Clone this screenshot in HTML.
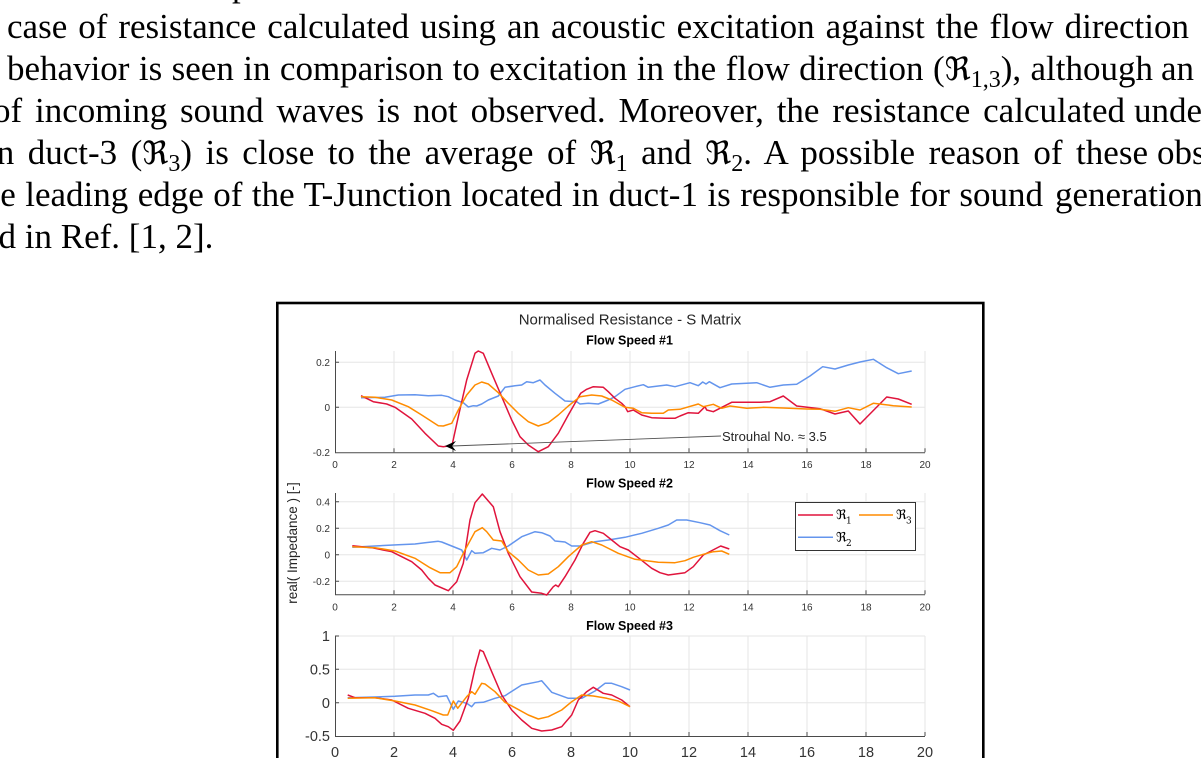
<!DOCTYPE html>
<html><head><meta charset="utf-8">
<style>
html,body{margin:0;padding:0;background:#fff;}
body{width:1201px;height:758px;overflow:hidden;position:relative;}
#txt{position:absolute;left:0;top:0;width:1201px;height:300px;overflow:hidden;}
.ln{position:absolute;font-family:"Liberation Serif","DejaVu Serif",serif;font-size:35px;line-height:35px;color:#000;text-align:justify;text-align-last:justify;white-space:nowrap;}
.nj{text-align:left;text-align-last:left;}
.ln sub{font-size:24px;vertical-align:-7px;line-height:0;}
.fr{font-family:"DejaVu Serif","Liberation Serif",serif;font-size:32px;}
svg{position:absolute;left:0;top:0;}
</style></head><body>

<div id="txt">
<div class="ln nj" style="left:232px;top:-33px;">p</div>
<div class="ln" style="left:7px;top:9px;width:1182px;">case of resistance calculated using an acoustic excitation against the flow direction</div>
<div class="ln" style="left:7px;top:51px;width:1146px;">behavior is seen in comparison to excitation in the flow direction (<span class="fr">ℜ</span><sub>1,3</sub>), although</div>
<div class="ln nj" style="left:1161px;top:51px;">an</div>
<div class="ln" style="left:-7px;top:93px;width:1132px;">of incoming sound waves is not observed. Moreover, the resistance calculated</div>
<div class="ln nj" style="left:1134px;top:93px;">under</div>
<div class="ln" style="left:-13px;top:135px;width:1161px;">in duct-3 (<span class="fr">ℜ</span><sub>3</sub>) is close to the average of <span class="fr">ℜ</span><sub>1</sub> and <span class="fr">ℜ</span><sub>2</sub>. A possible reason of these</div>
<div class="ln nj" style="left:1157px;top:135px;">observations</div>
<div class="ln" style="left:-27px;top:177px;width:1070px;">the leading edge of the T-Junction located in duct-1 is responsible for sound</div>
<div class="ln nj" style="left:1055px;top:177px;">generation</div>
<div class="ln nj" style="left:-17px;top:219px;">ed in Ref. [1, 2].</div>
</div>

<svg width="1201" height="758" viewBox="0 0 1201 758" xmlns="http://www.w3.org/2000/svg">
<g font-family="Liberation Sans, Arial, sans-serif">
<!-- figure frame -->
<rect x="277.3" y="303" width="706" height="480" fill="none" stroke="#000" stroke-width="2.6"/>

<text x="630" y="324.5" font-size="15" fill="#262626" text-anchor="middle">Normalised Resistance - S Matrix</text>

<!-- ===== Axis 1 ===== -->
<g stroke="#e6e6e6" stroke-width="1" fill="none">
<path d="M394,351V452 M453,351V452 M512,351V452 M571,351V452 M630,351V452 M689,351V452 M748,351V452 M807,351V452 M866,351V452 M925,351V452"/>
<path d="M335,362.3H925 M335,407.3H925"/>
</g>
<g stroke="#4a4a4a" stroke-width="1" fill="none">
<path d="M335.5,351V452.8H925"/>
<path d="M394,452.3v-4 M453,452.3v-4 M512,452.3v-4 M571,452.3v-4 M630,452.3v-4 M689,452.3v-4 M748,452.3v-4 M807,452.3v-4 M866,452.3v-4 M925,452.3v-4"/>
<path d="M335,362.3h4 M335,407.3h4"/>
</g>
<text x="629.5" y="344.5" font-size="12.5" font-weight="bold" fill="#000" text-anchor="middle">Flow Speed #1</text>
<g font-size="10" fill="#333" text-anchor="end">
<text x="330" y="366">0.2</text><text x="330" y="411">0</text><text x="330" y="456">-0.2</text>
</g>
<g font-size="10" fill="#333" text-anchor="middle">
<text x="335" y="468">0</text><text x="394" y="468">2</text><text x="453" y="468">4</text><text x="512" y="468">6</text><text x="571" y="468">8</text><text x="630" y="468">10</text><text x="689" y="468">12</text><text x="748" y="468">14</text><text x="807" y="468">16</text><text x="866" y="468">18</text><text x="925" y="468">20</text>
</g>
<g fill="none" stroke-width="1.5" stroke-linejoin="round">
<polyline stroke="#6495ED" points="361,397.7 385,397.3 398.3,395 415,394.7 428.3,395.7 441.7,395.3 448.3,396.7 455,400 463.3,402.7 468.3,407 473.3,405.7 476.7,406 481.7,404 488.3,400 498.3,396 505,387.3 515,385.7 521.7,385 526.7,381.7 533.3,382.7 540,380 545,385 555,393.3 565,401 576.7,401.7 580,404 588.3,403.3 598.3,404 608.3,400 615,396.7 625,389.3 635,386.7 643.3,384.7 648.3,387.3 658.3,386 666.7,385 675,386.7 690,382.7 698.3,385.7 702.7,382 706,384 709.3,381.7 720,387.7 731.7,384 756.7,382.7 770,387.3 783.3,385 796.7,384.3 810,376 822.7,366.7 835,369 848.3,365 860,362 873.3,359.3 886.7,367.7 898.3,373.7 911.7,371"/>
<polyline stroke="#E0143C" points="361,395.7 373.3,401.7 386.7,404 395,407.3 411.7,419 425,433.3 438.3,446 443.3,446.7 448.3,446 452.3,444 458.3,416.7 466.7,380 475,353.3 478.3,351 483.3,353.3 491.7,373.3 501.7,396.7 511.7,420 520,436.7 528.3,445 538.3,451.7 548.3,446.7 558.3,433.3 568.3,415 575,403.3 580.7,393.3 586.7,389.3 593.3,386.7 603.3,387.3 608.3,391.7 615,398.3 621.7,403.3 625,406.7 627.7,411.7 633.3,410 641.7,415 651.7,417.7 665,418.3 675,418.3 680,416 688.3,412.7 698.3,413.3 705,406.7 706.7,410 713.3,411.7 731.7,402.3 760,402.3 770,401.7 783.3,396 796.7,406 820,408.7 835,414 848.3,411 860,424 886.7,397 898.3,399 911.7,404.3"/>
<polyline stroke="#FF8C00" points="361,396.7 375,397.3 391.7,400 408.3,406.7 421.7,415 438.3,425.7 443.3,426 451.7,423.3 458.3,410 466.7,395 475,385 481.7,382 488.3,384 498.3,392.7 508.3,403.3 518.3,413.3 528.3,421.7 538.3,426 548.3,422.7 558.3,415 568.3,406 580,396.7 591.7,395 601.7,396 611.7,400 625,407.3 633.3,408.3 641.7,412.7 651.7,413.3 663.3,413.3 668.3,410 680,409.3 698.3,404 703.3,406.7 713.3,404.3 721.7,408.3 730,406 746.7,408.3 763.3,407.3 783.3,408 806.7,409 820,409.3 835,411.3 848.3,407.7 860,410 873.3,403.3 893.3,405.7 911.7,407"/>
</g>
<!-- annotation -->
<line x1="721" y1="436" x2="452" y2="446" stroke="#555" stroke-width="0.9"/>
<polygon points="445,446 456,441 452,446 456,451" fill="#000"/>
<text x="722" y="441" font-size="13" fill="#262626">Strouhal No. ≈ 3.5</text>

<!-- ===== Axis 2 ===== -->
<g stroke="#e6e6e6" stroke-width="1" fill="none">
<path d="M394,493V594 M453,493V594 M512,493V594 M571,493V594 M630,493V594 M689,493V594 M748,493V594 M807,493V594 M866,493V594 M925,493V594"/>
<path d="M335,501.7H925 M335,528.2H925 M335,554.7H925 M335,581.2H925"/>
</g>
<g stroke="#4a4a4a" stroke-width="1" fill="none">
<path d="M335.5,493V594.8H925"/>
<path d="M394,594.3v-4 M453,594.3v-4 M512,594.3v-4 M571,594.3v-4 M630,594.3v-4 M689,594.3v-4 M748,594.3v-4 M807,594.3v-4 M866,594.3v-4 M925,594.3v-4"/>
<path d="M335,501.7h4 M335,528.2h4 M335,554.7h4 M335,581.2h4"/>
</g>
<text x="629.5" y="487.5" font-size="12.5" font-weight="bold" fill="#000" text-anchor="middle">Flow Speed #2</text>
<g font-size="10" fill="#333" text-anchor="end">
<text x="330" y="505.4">0.4</text><text x="330" y="531.9">0.2</text><text x="330" y="558.4">0</text><text x="330" y="584.9">-0.2</text>
</g>
<g font-size="10" fill="#333" text-anchor="middle">
<text x="335" y="610.3">0</text><text x="394" y="610.3">2</text><text x="453" y="610.3">4</text><text x="512" y="610.3">6</text><text x="571" y="610.3">8</text><text x="630" y="610.3">10</text><text x="689" y="610.3">12</text><text x="748" y="610.3">14</text><text x="807" y="610.3">16</text><text x="866" y="610.3">18</text><text x="925" y="610.3">20</text>
</g>
<text transform="translate(297,543) rotate(-90)" font-size="13.5" fill="#262626" text-anchor="middle">real( Impedance ) [-]</text>
<g fill="none" stroke-width="1.5" stroke-linejoin="round">
<polyline stroke="#6495ED" points="352.3,547.3 375,546 398.3,544.7 415,544 425,542.7 438.3,541.3 441.7,542 451.7,546 461.7,550 466.7,560 471.7,550.7 475,553.3 483.3,552.7 491.7,548.3 500,550 508.3,546 521.7,536.7 535,531.7 541.7,532.7 550,536 555,541 565,542 571.7,546 580,546 595,541.7 608.3,540 625,537.3 641.7,533.3 658.3,528.3 668.3,525 676.7,520 686.7,520 700,522.7 710,525 720,530.7 729.3,535"/>
<polyline stroke="#E0143C" points="352.3,545.7 371.7,547.7 391.7,551.7 401.7,556.7 411.7,561.7 421.7,570 428.3,578.3 435,585 448.3,590.7 456.7,581.7 463.3,563.3 470,520 475,502.7 482.3,494 493.3,506.7 500,531.7 508.3,553.3 520,576.7 531.7,592 541.7,593.3 546.7,595 553.3,586.7 555.7,585 558.3,586.7 565,576.7 575,560 583.3,543.3 590,532.3 595,530.7 603.3,533.3 611.7,540 620,546.7 628.3,550 638.3,557.7 651.7,568.3 660,572.7 668.3,575 685,572.7 693.3,566.7 703.3,555 720.7,546 729.3,549"/>
<polyline stroke="#FF8C00" points="352.3,546.7 375,547.7 395,551 415,558.3 430,567.7 440,572.7 450,572.7 456.7,566.7 465,550 475,531.7 482.3,527.7 486.7,531.7 493.3,540 501.7,541 508.3,551.7 518.3,560 528.3,570 538.3,575 548.3,574 558.3,566.7 568.3,556.7 581.7,545 591.7,541.7 601.7,545 618.3,553.3 635,559.3 658.3,562.3 675,562.7 685,560.7 693.3,557.3 703.3,554.3 713.3,551.7 721.7,551 729.3,554.3"/>
</g>
<!-- legend -->
<rect x="795.5" y="502.5" width="120" height="48" fill="#fff" stroke="#333" stroke-width="1"/>
<line x1="798" y1="515" x2="833" y2="515" stroke="#E0143C" stroke-width="1.5"/>
<line x1="859" y1="515" x2="893" y2="515" stroke="#FF8C00" stroke-width="1.5"/>
<line x1="798" y1="537.3" x2="833" y2="537.3" stroke="#6495ED" stroke-width="1.5"/>
<g font-family="DejaVu Serif, Liberation Serif, serif" fill="#000">
<text x="836" y="519" font-size="13">ℜ</text><text x="846" y="523.5" font-size="9">1</text>
<text x="896" y="519" font-size="13">ℜ</text><text x="906" y="523.5" font-size="9">3</text>
<text x="836" y="541.3" font-size="13">ℜ</text><text x="846" y="545.8" font-size="9">2</text>
</g>

<!-- ===== Axis 3 ===== -->
<g stroke="#e6e6e6" stroke-width="1" fill="none">
<path d="M394,636V736 M453,636V736 M512,636V736 M571,636V736 M630,636V736 M689,636V736 M748,636V736 M807,636V736 M866,636V736 M925,636V736"/>
<path d="M335,636H925 M335,669.3H925 M335,702.7H925"/>
</g>
<g stroke="#4a4a4a" stroke-width="1" fill="none">
<path d="M335.5,636V736.5H925"/>
<path d="M394,736v-4 M453,736v-4 M512,736v-4 M571,736v-4 M630,736v-4 M689,736v-4 M748,736v-4 M807,736v-4 M866,736v-4 M925,736v-4"/>
<path d="M335,636h4 M335,669.3h4 M335,702.7h4"/>
</g>
<text x="629.5" y="630" font-size="12.5" font-weight="bold" fill="#000" text-anchor="middle">Flow Speed #3</text>
<g font-size="14.5" fill="#333" text-anchor="end">
<text x="330" y="641">1</text><text x="330" y="674.5">0.5</text><text x="330" y="708">0</text><text x="330" y="741">-0.5</text>
</g>
<g font-size="14.5" fill="#333" text-anchor="middle">
<text x="335" y="757">0</text><text x="394" y="757">2</text><text x="453" y="757">4</text><text x="512" y="757">6</text><text x="571" y="757">8</text><text x="630" y="757">10</text><text x="689" y="757">12</text><text x="748" y="757">14</text><text x="807" y="757">16</text><text x="866" y="757">18</text><text x="925" y="757">20</text>
</g>
<g fill="none" stroke-width="1.5" stroke-linejoin="round">
<polyline stroke="#6495ED" points="347.7,697.7 375,697 395,696.3 415,695 428.3,695 433.3,693.3 438.3,696.7 446.7,695.7 453.3,709.3 458.3,701 466.7,703.3 471.7,706.7 475,702.7 483.3,702.3 495,698.3 505,695.7 521.7,685 538.3,681.7 541.7,680.7 551.7,692.3 568.3,698.3 581.7,698.3 595,691 605,683.3 611.7,683.3 621.7,686.7 630,690"/>
<polyline stroke="#E0143C" points="347.7,695 355,697.7 375,697.7 391.7,700 408.3,708.3 425,713.3 435,718.3 441.7,724.3 448.3,726.7 453.3,730.3 460,721 468.3,698.3 475,668.3 480,650 483.3,651.7 491.7,671.7 501.7,695 511.7,710 521.7,720 531.7,728.3 541.7,731 551.7,730 561.7,726.7 571.7,715 578.3,700 586.7,691.7 593.3,687.3 603.3,693.3 611.7,695 621.7,700 630,706.7"/>
<polyline stroke="#FF8C00" points="347.7,698.3 375,697.7 395,701 415,705 431.7,710.7 443.3,715 447.7,715 453.3,701 457.7,708.3 466.7,696.7 471.7,691.7 475,694.3 481.7,683.3 485,684 495,691.7 505,702.3 515,707.7 528.3,715 538.3,719 548.3,716.7 561.7,710 571.7,701.7 581.7,695 593.3,696 606.7,698.3 618.3,701 630,706.7"/>
</g>
</g>
</svg>
</body></html>
